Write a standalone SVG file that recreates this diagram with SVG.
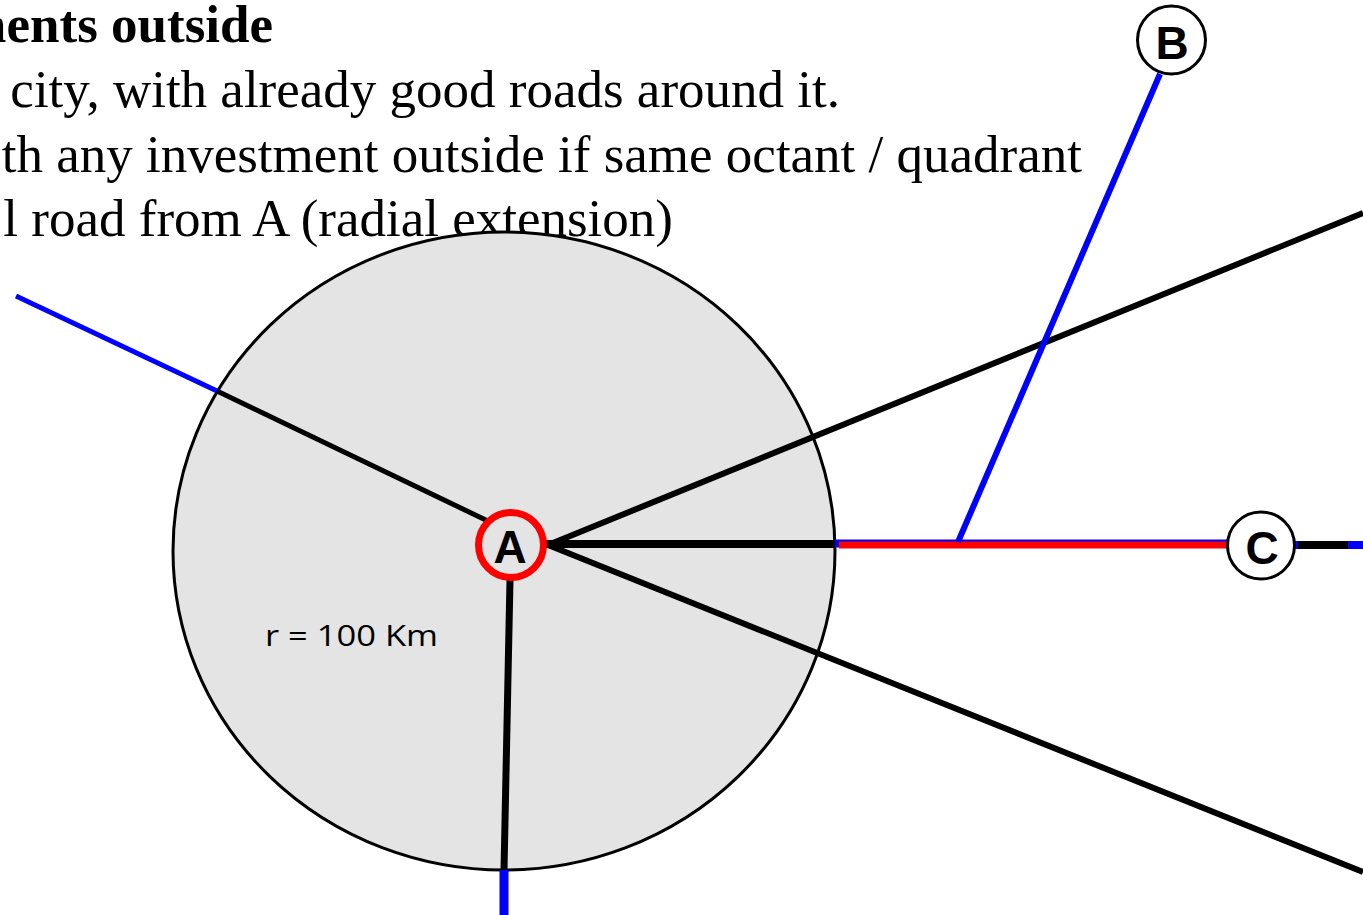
<svg xmlns="http://www.w3.org/2000/svg" width="1363" height="915" viewBox="0 0 1363 915">
<style>
.t{font-family:"Liberation Serif","Times New Roman",serif;font-size:53px;fill:#000}
.lbl{font-family:"Liberation Sans",Arial,sans-serif;font-weight:bold;font-size:46px;fill:#000}
.blk{stroke:#000;fill:none}
.blu{stroke:#0000ff;fill:none}
.red{stroke:#ff0000;fill:none}
</style>
<rect width="1363" height="915" fill="#fff"/>
<g id="title">
<text class="t" x="273" y="42" text-anchor="end" font-weight="bold">ments outside</text>
<text class="t" x="840" y="107" text-anchor="end">city, with already good roads around it.</text>
<text class="t" x="1082" y="172" text-anchor="end">th any investment outside if same octant / quadrant</text>
<text class="t" x="673" y="236" text-anchor="end">l road from A (radial extension)</text>
</g>
<g id="zone">
<ellipse cx="504" cy="551" rx="331" ry="319" fill="#e4e4e4" stroke="#000" stroke-width="3"/>
<text x="265" y="646" font-family="'Open Sans','Liberation Sans',sans-serif" font-size="30" textLength="173" lengthAdjust="spacingAndGlyphs">r = 100 Km</text>
</g>
<g id="connectors">
<line class="blu" x1="217" y1="391" x2="16" y2="296" stroke-width="5"/>
<line class="blk" x1="492" y1="523" x2="217" y2="391" stroke-width="5"/>
<line class="blk" x1="548" y1="545" x2="1363" y2="213" stroke-width="6"/>
<line class="blk" x1="548" y1="545" x2="1363" y2="872" stroke-width="6"/>
<line class="blk" x1="546" y1="544" x2="836" y2="544" stroke-width="8"/>
<line class="blu" x1="835" y1="543.5" x2="1228" y2="543.5" stroke-width="8"/>
<line class="red" x1="839" y1="545" x2="1228" y2="545" stroke-width="7"/>
<line class="blu" x1="1160" y1="74" x2="958" y2="542" stroke-width="6"/>
<line class="blk" x1="510" y1="580" x2="504" y2="870" stroke-width="7"/>
<line class="blu" x1="504" y1="870" x2="504" y2="915" stroke-width="9"/>
<line class="blu" x1="1294" y1="545" x2="1363" y2="545" stroke-width="8"/>
<line class="blk" x1="1298" y1="545" x2="1348" y2="545" stroke-width="8"/>
</g>
<g id="node-A">
<circle cx="511" cy="545" r="32.5" fill="#e4e4e4" stroke="#ff0000" stroke-width="7"/>
<text class="lbl" x="510" y="563" text-anchor="middle">A</text>
</g>
<g id="node-B">
<circle cx="1171.5" cy="40" r="34" fill="#fff" stroke="#000" stroke-width="3"/>
<text class="lbl" x="1172" y="59" text-anchor="middle">B</text>
</g>
<g id="node-C">
<circle cx="1261" cy="545.5" r="33.5" fill="#fff" stroke="#000" stroke-width="3"/>
<text class="lbl" x="1262" y="564" text-anchor="middle">C</text>
</g>
</svg>
